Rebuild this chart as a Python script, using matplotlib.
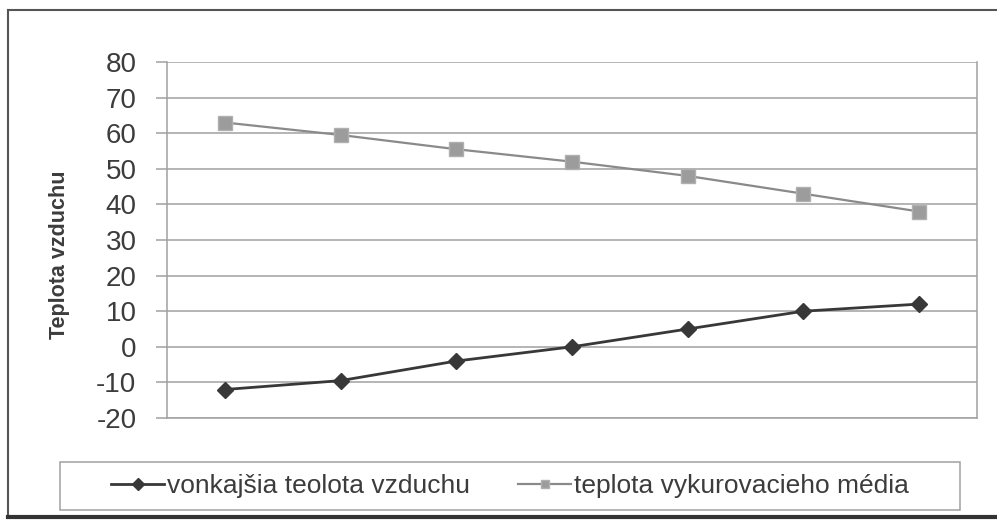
import numpy as np
import matplotlib
matplotlib.use("Agg")
import matplotlib.pyplot as plt
from matplotlib.lines import Line2D
from matplotlib.patches import Rectangle

plt.rcParams['font.family'] = ['Liberation Sans', 'DejaVu Sans']
plt.rcParams['axes.unicode_minus'] = False

# data
points = [1, 2, 3, 4, 5, 6, 7]
vonkajsia = [-12, -9.5, -4, 0, 5, 10, 12]
vykurovacie = [63, 59.5, 55.5, 52, 48, 43, 38]
y_ticks = [-20, -10, 0, 10, 20, 30, 40, 50, 60, 70, 80]
labels = ['vonkajšia teolota vzduchu', 'teplota vykurovacieho média']
y_title = 'Teplota vzduchu'

W, H = 997, 521
fig = plt.figure(figsize=(W/100, H/100), dpi=100)
ax = fig.add_axes([167/W, 1-418/H, (977-167)/W, (418-62)/H])

grid_col = '#a0a0a0'
text_col = '#3c3c3c'

ax.plot(points, vonkajsia, color='#383838', lw=2, marker='D', ms=8,
        mfc='#383838', mec='#383838', label=labels[0], zorder=3)
ax.plot(points, vykurovacie, color='#8a8a8a', lw=1.6, marker='s', ms=10,
        mfc='#9c9c9c', mec='#b0b0b0', label=labels[1], zorder=3)

ax.set_xlim(0.5, 7.5)
ax.set_ylim(-20, 80)
ax.set_yticks(y_ticks)
ax.set_xticks([])
ax.yaxis.grid(True, color=grid_col, lw=1.1)
ax.set_axisbelow(True)
for s in ax.spines.values():
    s.set_color(grid_col)
    s.set_linewidth(1.1)
ax.spines['top'].set_visible(False)
ax.tick_params(axis='y', length=8, width=1.1, color=grid_col,
               labelsize=20, labelcolor=text_col, pad=14)
ax.set_ylabel(y_title, fontsize=15.5, fontweight='bold', color=text_col)
ax.yaxis.set_label_coords((70-167)/810, 0.458)

# legend entries, box drawn separately
leg = fig.legend(loc='center', ncol=2, bbox_to_anchor=(510/W, 1-486/H),
                 fontsize=19, frameon=False, handlelength=2.0,
                 handletextpad=0.1, columnspacing=1.85, labelcolor=text_col)
for h in leg.legend_handles:
    h.set_markersize(6)
fig.add_artist(Rectangle((60/W, 1-510/H), (960-60)/W, (510-462)/H,
                         transform=fig.transFigure, fill=False,
                         edgecolor=grid_col, lw=1.1))

# outer chart frame
fig.add_artist(Line2D([8/W, 8/W], [1-10/H, 1-517/H], color='#555555', lw=1.5))
fig.add_artist(Line2D([8/W, 1], [1-10/H, 1-10/H], color='#555555', lw=1.5))
fig.add_artist(Line2D([8/W, 1], [1-517/H, 1-517/H], color='#333333', lw=3))

fig.savefig('out.png', dpi=100)
